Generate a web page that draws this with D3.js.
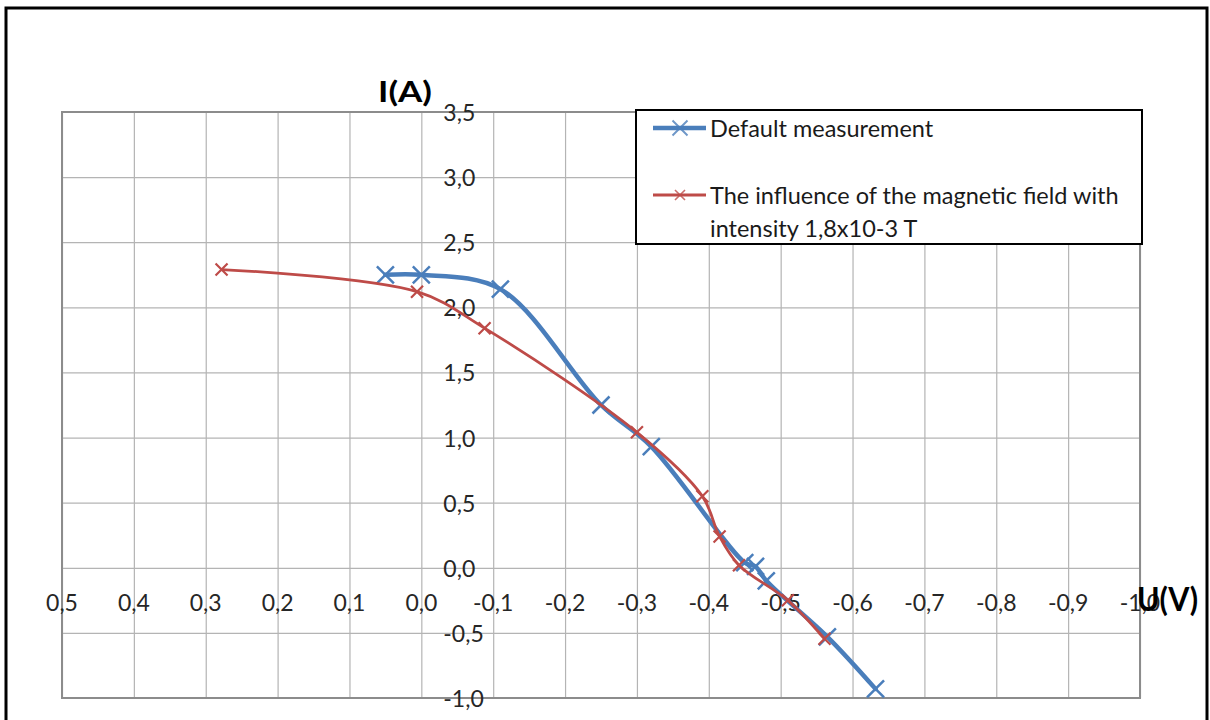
<!DOCTYPE html>
<html>
<head>
<meta charset="utf-8">
<script src="https://cdn.jsdelivr.net/npm/d3@7"></script>
<style>
	body { margin: 0; background: #fff; }
	svg { display: block; font-family: Lato, 'Open Sans', sans-serif; }
</style>
</head>
<body>
<svg id="chart-svg" width="1210" height="720"></svg>
<script>
// U(V) / I(A) characteristic, two series
const xTicks = [0.5, 0.4, 0.3, 0.2, 0.1, 0.0, -0.1, -0.2, -0.3, -0.4, -0.5, -0.6, -0.7, -0.8, -0.9, -1.0];
const yTicks = [3.5, 3.0, 2.5, 2.0, 1.5, 1.0, 0.5, 0.0, -0.5, -1.0];

const defaultU = [0.05, 0.0, -0.11, -0.25, -0.32, -0.45, -0.465, -0.48, -0.565, -0.632];
const defaultI = [2.25, 2.25, 2.14, 1.25, 0.93, 0.04, 0.01, -0.1, -0.53, -0.93];

const magneticU = [0.278, 0.006, -0.088, -0.30, -0.391, -0.415, -0.442, -0.51, -0.561];
const magneticI = [2.29, 2.12, 1.84, 1.04, 0.55, 0.24, 0.02, -0.25, -0.545];

const seriesNames = ['Default measurement', 'The influence of the magnetic field with', 'intensity 1,8x10-3 T'];

const svg = d3.select('#chart-svg');

const plot = { left: 62, right: 1140, top: 112, bottom: 698 };
const x = d3.scaleLinear().domain([0.5, -1.0]).range([plot.left, plot.right]);
const y = d3.scaleLinear().domain([-1.0, 3.5]).range([plot.bottom, plot.top]);
const fmt = (d) => d.toFixed(1).replace('.', ',');

// outer chart frame
svg.append('rect')
	.attr('x', 6).attr('y', 8)
	.attr('width', 1201).attr('height', 720)
	.attr('fill', 'none').attr('stroke', '#000').attr('stroke-width', 3);

// gridlines
let gridX = svg.append('g')
	.attr('transform', 'translate(0,' + plot.bottom + ')')
	.call(d3.axisBottom(x).tickValues(xTicks).tickSize(-(plot.bottom - plot.top)).tickFormat(''));
let gridY = svg.append('g')
	.attr('transform', 'translate(' + plot.left + ',0)')
	.call(d3.axisLeft(y).tickValues(yTicks).tickSize(-(plot.right - plot.left)).tickFormat(''));
[gridX, gridY].forEach((g) => {
	g.select('.domain').remove();
	g.selectAll('line').attr('stroke', '#b4b4b4').attr('stroke-width', 1.2);
});

// plot area border
svg.append('rect')
	.attr('x', plot.left).attr('y', plot.top)
	.attr('width', plot.right - plot.left).attr('height', plot.bottom - plot.top)
	.attr('fill', 'none').attr('stroke', '#8c8c8c').attr('stroke-width', 2);

// tick labels
svg.append('g').selectAll('text')
	.data(xTicks).enter().append('text')
	.attr('x', (d) => x(d))
	.attr('y', 602)
	.attr('text-anchor', 'middle')
	.attr('dominant-baseline', 'central')
	.attr('font-size', 23)
	.attr('fill', '#262626')
	.text(fmt);

svg.append('g').selectAll('text')
	.data(yTicks).enter().append('text')
	.attr('x', x(0) + 22)
	.attr('y', (d) => y(d))
	.attr('dominant-baseline', 'central')
	.attr('font-size', 23)
	.attr('fill', '#262626')
	.text(fmt);

// axis titles
svg.append('text')
	.attr('x', 378).attr('y', 102)
	.attr('font-size', 28).attr('font-weight', 'bold')
	.attr('textLength', 54).attr('lengthAdjust', 'spacingAndGlyphs')
	.text('I(A)');
svg.append('text')
	.attr('x', 1137).attr('y', 611)
	.attr('font-size', 32).attr('font-weight', 'bold')
	.attr('textLength', 61).attr('lengthAdjust', 'spacingAndGlyphs')
	.text('U(V)');

// series
const series = [
	{ u: defaultU, i: defaultI, color: '#4a7ebb', width: 4.5, mark: 8.5, markWidth: 2.5 },
	{ u: magneticU, i: magneticI, color: '#be4b48', width: 2.8, mark: 6, markWidth: 2.2 }
];
const xMark = (s) => 'M' + -s + ',' + -s + 'L' + s + ',' + s + 'M' + -s + ',' + s + 'L' + s + ',' + -s;
const line = d3.line().x((d) => x(d[0])).y((d) => y(d[1])).curve(d3.curveCatmullRom);

series.forEach((s) => {
	let pts = s.u.map((u, k) => [u, s.i[k]]);
	svg.append('path')
		.datum(pts)
		.attr('d', line)
		.attr('fill', 'none')
		.attr('stroke', s.color)
		.attr('stroke-width', s.width)
		.attr('stroke-linejoin', 'round')
		.attr('stroke-linecap', 'round');
	svg.append('g').selectAll('path')
		.data(pts).enter().append('path')
		.attr('transform', (d) => 'translate(' + x(d[0]) + ',' + y(d[1]) + ')')
		.attr('d', xMark(s.mark))
		.attr('stroke', s.color)
		.attr('stroke-width', s.markWidth);
});

// legend
let legend = svg.append('g');
legend.append('rect')
	.attr('x', 636).attr('y', 110)
	.attr('width', 506).attr('height', 134)
	.attr('fill', '#fff').attr('stroke', '#000').attr('stroke-width', 2);
[{ yPos: 128, s: series[0] }, { yPos: 195, s: series[1] }].forEach((e) => {
	legend.append('line')
		.attr('x1', 653).attr('x2', 706).attr('y1', e.yPos).attr('y2', e.yPos)
		.attr('stroke', e.s.color).attr('stroke-width', e.s.width);
	legend.append('path')
		.attr('transform', 'translate(680,' + e.yPos + ')')
		.attr('d', xMark(e.s.mark - 1))
		.attr('stroke', e.s.color).attr('stroke-width', e.s.markWidth - 0.6)
		.attr('opacity', 0.8);
});
legend.selectAll('text.legend-text')
	.data(seriesNames).enter().append('text')
	.attr('class', 'legend-text')
	.attr('x', 710)
	.attr('y', (d, k) => [128, 195, 228][k])
	.attr('dominant-baseline', 'central')
	.attr('font-size', 23.5)
	.attr('fill', '#1a1a1a')
	.text((d) => d);
</script>
</body>
</html>
